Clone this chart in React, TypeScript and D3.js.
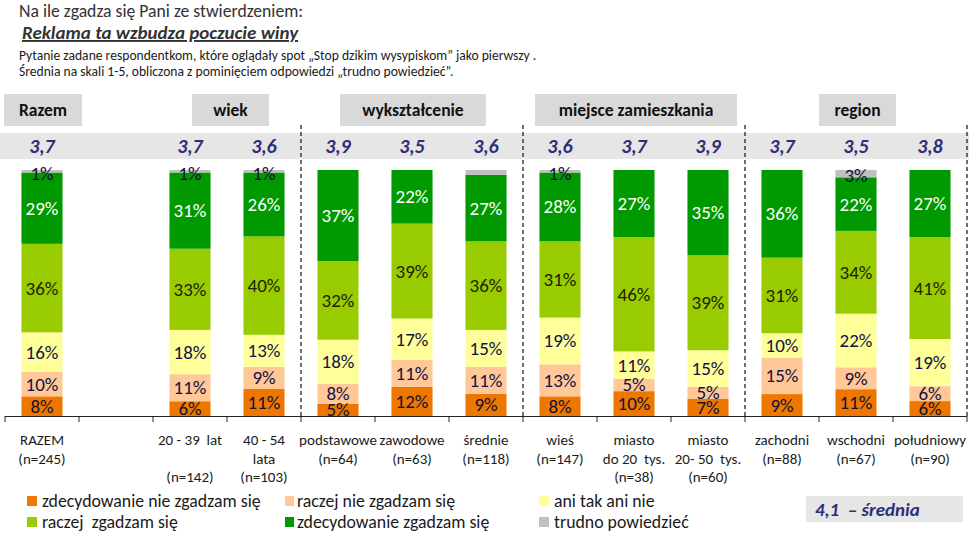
import React from "react";
import * as d3 from "d3";

// ---------- DATA ----------
const categoryIds = ["razem", "gap", "w2039", "w4054", "podst", "zawod", "sred", "wies", "m20", "m2050", "zach", "wsch", "pold"];
const categoryLabels: string[][] = [
  ["RAZEM", "(n=245)"],
  [],
  ["20 - 39  lat", "", "(n=142)"],
  ["40 - 54", "lata", "(n=103)"],
  ["podstawowe", "(n=64)"],
  ["zawodowe", "(n=63)"],
  ["średnie", "(n=118)"],
  ["wieś", "(n=147)"],
  ["miasto", "do 20  tys.", "(n=38)"],
  ["miasto", "20- 50  tys.", "(n=60)"],
  ["zachodni", "(n=88)"],
  ["wschodni", "(n=67)"],
  ["południowy", "(n=90)"],
];
const means = ["3,7", "", "3,7", "3,6", "3,9", "3,5", "3,6", "3,6", "3,7", "3,9", "3,7", "3,5", "3,8"];

const zdecNie = [8, 0, 6, 11, 5, 12, 9, 8, 10, 7, 9, 11, 6];
const raczejNie = [10, 0, 11, 9, 8, 11, 11, 13, 5, 5, 15, 9, 6];
const aniTak = [16, 0, 18, 13, 18, 17, 15, 19, 11, 15, 10, 22, 19];
const raczejTak = [36, 0, 33, 40, 32, 39, 36, 31, 46, 39, 31, 34, 41];
const zdecTak = [29, 0, 31, 26, 37, 22, 27, 28, 27, 35, 36, 22, 27];
const trudno = [1, 0, 1, 1, 0, 0, 2, 1, 0, 0, 0, 3, 0];

const seriesKeys = ["zdecNie", "raczejNie", "aniTak", "raczejTak", "zdecTak", "trudno"];
const seriesNames = [
  "zdecydowanie nie zgadzam się",
  "raczej nie zgadzam się",
  "ani tak ani nie",
  "raczej  zgadzam się",
  "zdecydowanie zgadzam się",
  "trudno powiedzieć",
];
const seriesColors = ["#EE7700", "#FFC896", "#FFFF99", "#99CC00", "#009900", "#C0C0C0"];
const labelColors = ["#111133", "#111144", "#111144", "#222200", "#FFFFFF", "#111133"];
// labels not printed in the reference
const hiddenLabels = ["sred|trudno"];

const groups = [
  { name: "Razem", x0: 4, x1: 82 },
  { name: "wiek", x0: 192, x1: 269 },
  { name: "wykształcenie", x0: 340, x1: 486 },
  { name: "miejsce zamieszkania", x0: 535, x1: 737 },
  { name: "region", x0: 819, x1: 896 },
];
const dividerAfter = [3, 6, 9, 12];

const FONT = "Carlito, Lato, sans-serif";

export default function App() {
  const W = 969, H = 540;
  const rows = categoryIds.map((id, i) => ({
    id,
    zdecNie: zdecNie[i],
    raczejNie: raczejNie[i],
    aniTak: aniTak[i],
    raczejTak: raczejTak[i],
    zdecTak: zdecTak[i],
    trudno: trudno[i],
  }));
  const stacked = d3.stack<any>().keys(seriesKeys).offset(d3.stackOffsetExpand)(rows);

  const pad = 0.445;
  const x = d3.scaleBand<string>().domain(categoryIds).range([5, 967]).paddingInner(pad).paddingOuter(pad / 2);
  const y = d3.scaleLinear().domain([0, 1]).range([416, 170]);
  const step = x.step();
  const bw = x.bandwidth();
  const cx = (i: number) => (x(categoryIds[i]) as number) + bw / 2;
  const boundary = (i: number) => (x(categoryIds[0]) as number) - (step * pad) / 2 + i * step;

  return (
    <svg width={W} height={H} style={{ position: "absolute", left: 0, top: 0, background: "#fff" }} fontFamily={FONT}>
      <rect x={0} y={0} width={W} height={H} fill="#fff" />
      {/* titles */}
      <text x={19} y={17} fontSize={17.7} fill="#333">Na ile zgadza się Pani ze stwierdzeniem:</text>
      <text x={22} y={39} fontSize={19} fontWeight="bold" fontStyle="italic" fill="#333" textDecoration="underline">
        Reklama ta wzbudza poczucie winy
      </text>
      <text x={19} y={60} fontSize={13.6} fill="#1a1a1a">
        Pytanie zadane respondentkom, które oglądały spot „Stop dzikim wysypiskom” jako pierwszy .
      </text>
      <text x={19} y={76} fontSize={13.6} fill="#1a1a1a">
        Średnia na skali 1-5, obliczona z pominięciem odpowiedzi „trudno powiedzieć”.
      </text>

      {/* group header boxes */}
      {groups.map((g) => (
        <g key={g.name}>
          <rect x={g.x0} y={94} width={g.x1 - g.x0} height={32} fill="#D9D9D9" />
          <text x={(g.x0 + g.x1) / 2} y={110} fontSize={17.5} fontWeight="bold" textAnchor="middle" dominantBaseline="central" fill="#111">
            {g.name}
          </text>
        </g>
      ))}

      {/* mean band */}
      <rect x={0} y={133} width={W} height={26} fill="#E6E6E6" />
      {means.map((m, i) =>
        m ? (
          <text key={i} x={cx(i)} y={146} fontSize={20} fontWeight="bold" fontStyle="italic" textAnchor="middle" dominantBaseline="central" fill="#2E2E78">
            {m}
          </text>
        ) : null
      )}

      {/* bars */}
      {stacked.map((s, si) => (
        <g key={s.key}>
          {s.map((d, i) => {
            const h = y(d[0]) - y(d[1]);
            if (!(h > 0)) return null;
            return <rect key={i} x={x(categoryIds[i])} y={y(d[1])} width={bw} height={h} fill={seriesColors[si]} />;
          })}
        </g>
      ))}
      {stacked.map((s, si) => (
        <g key={s.key + "l"}>
          {s.map((d, i) => {
            const raw = (rows[i] as any)[s.key];
            if (!raw || hiddenLabels.includes(categoryIds[i] + "|" + s.key)) return null;
            const yc = (y(d[0]) + y(d[1])) / 2 + (si === 5 ? 2 : 0);
            return (
              <text key={i} x={cx(i)} y={yc} fontSize={19} textAnchor="middle" dominantBaseline="central" fill={labelColors[si]}>
                {raw}%
              </text>
            );
          })}
        </g>
      ))}

      {/* dashed dividers */}
      {dividerAfter.map((b) => (
        <line key={b} x1={boundary(b + 1)} x2={boundary(b + 1)} y1={125} y2={416} stroke="#111" strokeWidth={1.2} strokeDasharray="4,3" />
      ))}

      {/* x axis */}
      <line x1={boundary(0)} x2={boundary(13)} y1={416.5} y2={416.5} stroke="#222" strokeWidth={1} />
      {d3.range(14).map((i) => (
        <line key={i} x1={boundary(i)} x2={boundary(i)} y1={416} y2={422} stroke="#222" strokeWidth={1} />
      ))}
      {categoryLabels.map((lines, i) => (
        <g key={i}>
          {lines.map((t, li) =>
            t ? (
              <text key={li} x={cx(i)} y={440 + li * 18.5} fontSize={15} textAnchor="middle" dominantBaseline="central" fill="#1a1a1a" style={{ whiteSpace: "pre" }}>
                {t}
              </text>
            ) : null
          )}
        </g>
      ))}

      {/* legend */}
      {seriesNames.map((n, i) => {
        const col = i % 3;
        const row = Math.floor(i / 3);
        const sx = [27, 285, 539][col];
        const tx = [42, 297, 554][col];
        const yc = [501, 522][row];
        return (
          <g key={n}>
            <rect x={sx} y={yc - 5} width={col === 1 ? 9 : 10} height={10} fill={seriesColors[i]} />
            <text x={tx} y={yc} fontSize={17.8} dominantBaseline="central" fill="#1a1a1a" style={{ whiteSpace: "pre" }}>
              {n}
            </text>
          </g>
        );
      })}

      {/* mean legend box */}
      <rect x={806} y={496} width={157} height={26} fill="#E6E6E6" />
      <text x={815} y={509} fontSize={19} fontWeight="bold" fontStyle="italic" dominantBaseline="central" fill="#2E2E78" style={{ whiteSpace: "pre" }}>
        {"4,1  – średnia"}
      </text>
    </svg>
  );
}
